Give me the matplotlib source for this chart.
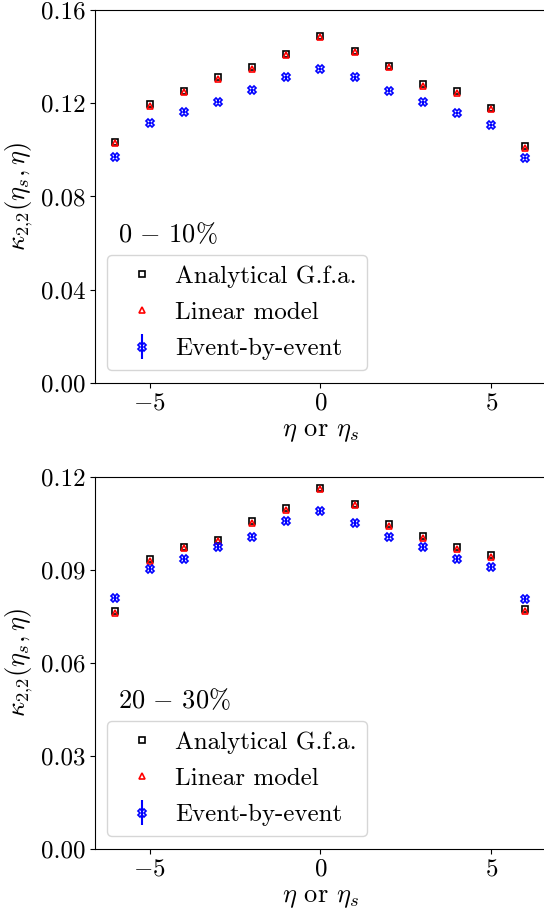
import matplotlib
matplotlib.use('Agg')
import matplotlib.pyplot as plt

plt.rcParams['font.family'] = 'serif'
plt.rcParams['font.serif'] = ['cmr10']
plt.rcParams['mathtext.fontset'] = 'cm'
plt.rcParams['axes.formatter.use_mathtext'] = True

eta = [-6, -5, -4, -3, -2, -1, 0, 1, 2, 3, 4, 5, 6]

# 0-10% centrality
gfa_0_10 = [0.1035, 0.1196, 0.1253, 0.1311, 0.1354, 0.1411, 0.1490,
            0.1424, 0.1361, 0.1281, 0.1251, 0.1180, 0.1017]
lin_0_10 = [0.1028, 0.1190, 0.1247, 0.1305, 0.1348, 0.1405, 0.1484,
            0.1418, 0.1355, 0.1275, 0.1245, 0.1174, 0.1010]
ebe_0_10 = [0.0971, 0.1115, 0.1164, 0.1207, 0.1256, 0.1311, 0.1347,
            0.1311, 0.1253, 0.1204, 0.1158, 0.1107, 0.0965]
err_0_10 = [0.0006, 0.0006, 0.0006, 0.0006, 0.0006, 0.0006, 0.0006,
            0.0006, 0.0006, 0.0006, 0.0006, 0.0006, 0.0006]

# 20-30% centrality
gfa_20_30 = [0.0768, 0.0934, 0.0975, 0.0997, 0.1058, 0.1100, 0.1165,
             0.1114, 0.1047, 0.1009, 0.0973, 0.0947, 0.0773]
lin_20_30 = [0.0762, 0.0929, 0.0970, 0.0992, 0.1053, 0.1095, 0.1160,
             0.1109, 0.1042, 0.1004, 0.0968, 0.0942, 0.0768]
ebe_20_30 = [0.0809, 0.0903, 0.0936, 0.0973, 0.1008, 0.1058, 0.1090,
             0.1052, 0.1008, 0.0975, 0.0936, 0.0910, 0.0807]
err_20_30 = [0.0006, 0.0006, 0.0006, 0.0006, 0.0006, 0.0006, 0.0006,
             0.0006, 0.0006, 0.0006, 0.0006, 0.0006, 0.0006]

panels = [
    (gfa_0_10, lin_0_10, ebe_0_10, err_0_10, r'$0\,-\,10\%$', [0, 0.04, 0.08, 0.12, 0.16]),
    (gfa_20_30, lin_20_30, ebe_20_30, err_20_30, r'$20\,-\,30\%$', [0, 0.03, 0.06, 0.09, 0.12]),
]

fig = plt.figure(figsize=(5.44, 9.18), dpi=100)
positions = [[0.1746, 0.5828, 0.829, 0.4063], [0.1746, 0.0752, 0.829, 0.4052]]

for pos, (gfa, lin, ebe, err, label, yticks) in zip(positions, panels):
    ax = fig.add_axes(pos)
    ax.plot(eta, gfa, 's', color='k', mfc='none', ms=5, mew=1.2,
            label='Analytical G.f.a.')
    ax.plot(eta, lin, '^', color='r', mfc='none', ms=4, mew=1.2,
            label='Linear model')
    ax.errorbar(eta, ebe, yerr=err, fmt='X', color='b', mfc='none', ms=6,
                mew=1.2, elinewidth=1.5, label='Event-by-event')
    ax.set_xlim(-6.6, 6.6)
    ax.set_ylim(yticks[0], yticks[-1])
    ax.set_yticks(yticks)
    ax.set_yticklabels(['%.2f' % t for t in yticks])
    ax.set_xticks([-5, 0, 5])
    ax.tick_params(labelsize=18)
    ax.set_xlabel(r'$\eta$ or $\eta_s$', fontsize=19)
    ax.set_ylabel(r'$\kappa_{2{,}2}(\eta_s,\eta)$', fontsize=19)
    ax.text(0.05, 0.378, label, transform=ax.transAxes, fontsize=19,
            ha='left', va='baseline')
    ax.legend(loc='lower left', fontsize=18, labelspacing=0.55,
              handletextpad=0.3)

plt.savefig('out.png', dpi=100)
